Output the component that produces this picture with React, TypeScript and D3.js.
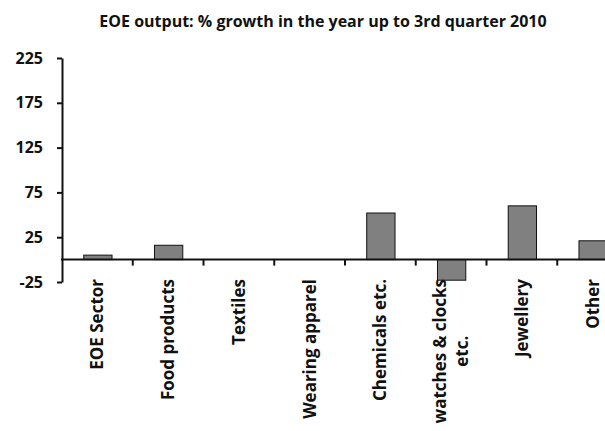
import { useEffect, useRef } from "react";
import * as d3 from "d3";

const categories = [
  "EOE Sector",
  "Food products",
  "Textiles",
  "Wearing apparel",
  "Chemicals etc.",
  "watches & clocks etc.",
  "Jewellery",
  "Other",
];
const growth = [5, 16, 0, 0, 52, -23, 60, 21];
// how Excel wrapped the long axis labels
const labelLines: Record<string, string[]> = {
  "watches & clocks etc.": ["watches & clocks", "etc."],
};
const yTicks = [-25, 25, 75, 125, 175, 225];
const title = "EOE output: % growth in the year up to 3rd quarter 2010";

const W = 605;
const H = 431;
const FONT = "'Open Sans', sans-serif";

export default function App() {
  const svgRef = useRef<SVGSVGElement>(null);

  useEffect(() => {
    if (!svgRef.current) return;
    const svg = d3.select(svgRef.current);
    svg.selectAll("*").remove();

    const x = d3.scaleBand<string>().domain(categories).range([62, 628]).paddingInner(0.6).paddingOuter(0.3);
    const xb = d3.scaleBand<string>().domain(categories).range([62, 628]);
    const y = d3.scaleLinear().domain([-25, 225]).range([282, 58]);

    svg.append("text")
      .attr("x", 323).attr("y", 27)
      .attr("text-anchor", "middle")
      .attr("font-family", FONT).attr("font-weight", "bold").attr("font-size", 16)
      .attr("fill", "#111")
      .text(title);

    // bars
    svg.append("g").selectAll("rect").data(categories).join("rect")
      .attr("x", (d) => x(d)! + 0.5)
      .attr("width", x.bandwidth())
      .attr("y", (_, i) => y(Math.max(0, growth[i])))
      .attr("height", (_, i) => Math.abs(y(growth[i]) - y(0)))
      .attr("fill", "#808080")
      .attr("stroke", "#111")
      .attr("stroke-width", 1);

    // y axis
    const yAxis = svg.append("g").attr("transform", "translate(62,0)")
      .call(d3.axisLeft(y).tickValues(yTicks).tickFormat((d) => String(d))
        .tickSize(5).tickPadding(14).tickSizeOuter(0));
    yAxis.select(".domain").attr("stroke", "#111").attr("stroke-width", 2);
    yAxis.selectAll(".tick line").attr("stroke", "#111").attr("stroke-width", 2);
    yAxis.selectAll(".tick text")
      .attr("font-family", FONT).attr("font-weight", "bold").attr("font-size", 16).attr("fill", "#111");

    // x axis along zero
    const y0 = y(0);
    svg.append("line")
      .attr("x1", 61).attr("x2", 628).attr("y1", y0).attr("y2", y0)
      .attr("stroke", "#111").attr("stroke-width", 2);
    svg.append("g").selectAll("line").data(categories.slice(1)).join("line")
      .attr("x1", (d) => xb(d)!).attr("x2", (d) => xb(d)!)
      .attr("y1", y0).attr("y2", y0 + 6)
      .attr("stroke", "#111").attr("stroke-width", 2);

    // rotated category labels
    const top = 279;
    const fs = 17;
    categories.forEach((c) => {
      const lines = labelLines[c] ?? [c];
      const cx = xb(c)! + xb.bandwidth() / 2;
      const g = svg.append("g");
      const first = g.append("text")
        .attr("font-family", FONT).attr("font-weight", "bold").attr("font-size", fs).attr("fill", "#111")
        .text(lines[0]);
      const len = (first.node() as SVGTextElement).getComputedTextLength();
      const mid = top + len / 2;
      const step = 22;
      lines.forEach((ln, j) => {
        const t = j === 0 ? first : g.append("text")
          .attr("font-family", FONT).attr("font-weight", "bold").attr("font-size", fs).attr("fill", "#111")
          .text(ln);
        const off = (j - (lines.length - 1) / 2) * step;
        t.attr("text-anchor", "middle")
          .attr("transform", `translate(${cx + off + 6},${mid}) rotate(-90)`);
      });
    });
  }, []);

  return (
    <svg ref={svgRef} width={W} height={H}
      style={{ position: "absolute", left: 0, top: 0, background: "#fff" }} />
  );
}
